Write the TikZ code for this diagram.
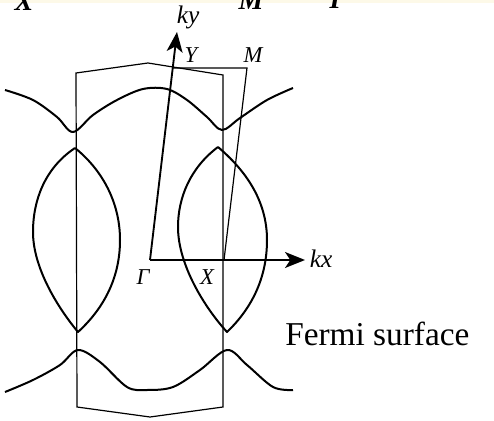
\documentclass[tikz,border=0pt]{standalone}
\usepackage{fontspec}
\setmainfont{Liberation Serif}
\usetikzlibrary{arrows.meta}
\definecolor{scanband}{RGB}{253,249,232}
\begin{document}
\begin{tikzpicture}[x=0.75pt,y=-0.75pt,
  fermi/.style={line width=1.5pt,line join=round},
  zone/.style={line width=0.9pt},
  axis/.style={line width=1.4pt,-{Stealth[length=15pt,width=12pt,inset=4pt]}},
  sym/.style={inner sep=0pt,font=\itshape\fontsize{17}{17}\selectfont},
  ksym/.style={inner sep=0pt,font=\itshape\fontsize{19}{19}\selectfont}]
\useasboundingbox (0,0) rectangle (494,421);
% cut-off line of the page above
\fill[scanband] (0,0) rectangle (494,3);
\begin{scope}
\clip (0,0) rectangle (494,421);
\node[anchor=base,font=\bfseries\itshape\fontsize{21}{21}\selectfont] (topX) at (24,11) {X};
\node[anchor=base,font=\bfseries\itshape\fontsize{21}{21}\selectfont] (topM) at (251,10) {M};
\node[anchor=base,font=\bfseries\itshape\fontsize{21}{21}\selectfont] (topG) at (338,8) {Γ};
\end{scope}
% points
\coordinate (G) at (150,260);
\coordinate (X) at (224,260);
\coordinate (Y) at (173,68);
\coordinate (M) at (247,68);
\coordinate (kyend) at (177,32);
\coordinate (kxend) at (305,260);
% Brillouin zone
\coordinate (z1) at (76,73);
\coordinate (z2) at (148,63);
\coordinate (z3) at (223,75);
\coordinate (z4) at (223,407);
\coordinate (z5) at (150,417);
\coordinate (z6) at (77,407);
\draw[zone] (z1) -- (z2) -- (z3) -- (z4) -- (z5) -- (z6) -- cycle;
\draw[zone] (Y) -- (M) -- (X);
% Fermi surface
\draw[fermi] plot[smooth,tension=0.55] coordinates {(5,90) (33,100) (57,117) (73,132) (93,115) (117,100) (143,89) (167,89) (187,100) (207,117) (222,130) (240,118) (267,100) (293,88)};
\draw[fermi] plot[smooth,tension=0.55] coordinates {(5,392) (33,380) (60,365) (78,350) (100,362) (127,387) (147,390) (173,387) (200,370) (227,350) (247,365) (273,387) (293,390)};
\draw[fermi] (75,148) .. controls (45,168) and (33,200) .. (33,232)
  .. controls (33,268) and (58,308) .. (78,332)
  .. controls (102,310) and (120,280) .. (120,240)
  .. controls (120,200) and (100,168) .. (75,148);
\draw[fermi] (218,147) .. controls (190,168) and (178,198) .. (178,227)
  .. controls (178,265) and (205,308) .. (227,332)
  .. controls (250,310) and (267,280) .. (267,240)
  .. controls (267,200) and (245,170) .. (218,147);
% axes
\draw[axis] (G) -- (kyend);
\draw[axis] (G) -- (kxend);
% labels
\node[ksym] (kylabel) at (188,17) {ky};
\node[ksym] (kxlabel) at (321,259) {kx};
\node[sym] (Ylabel) at (191,55) {Y};
\node[sym] (Mlabel) at (253,55) {M};
\node[sym] (Glabel) at (143,277) {Γ};
\node[sym] (Xlabel) at (207,277) {X};
\node[anchor=base west,inner sep=0pt,font=\fontsize{25}{25}\selectfont] (fermilabel) at (285,345) {Fermi surface};
\end{tikzpicture}
\end{document}
